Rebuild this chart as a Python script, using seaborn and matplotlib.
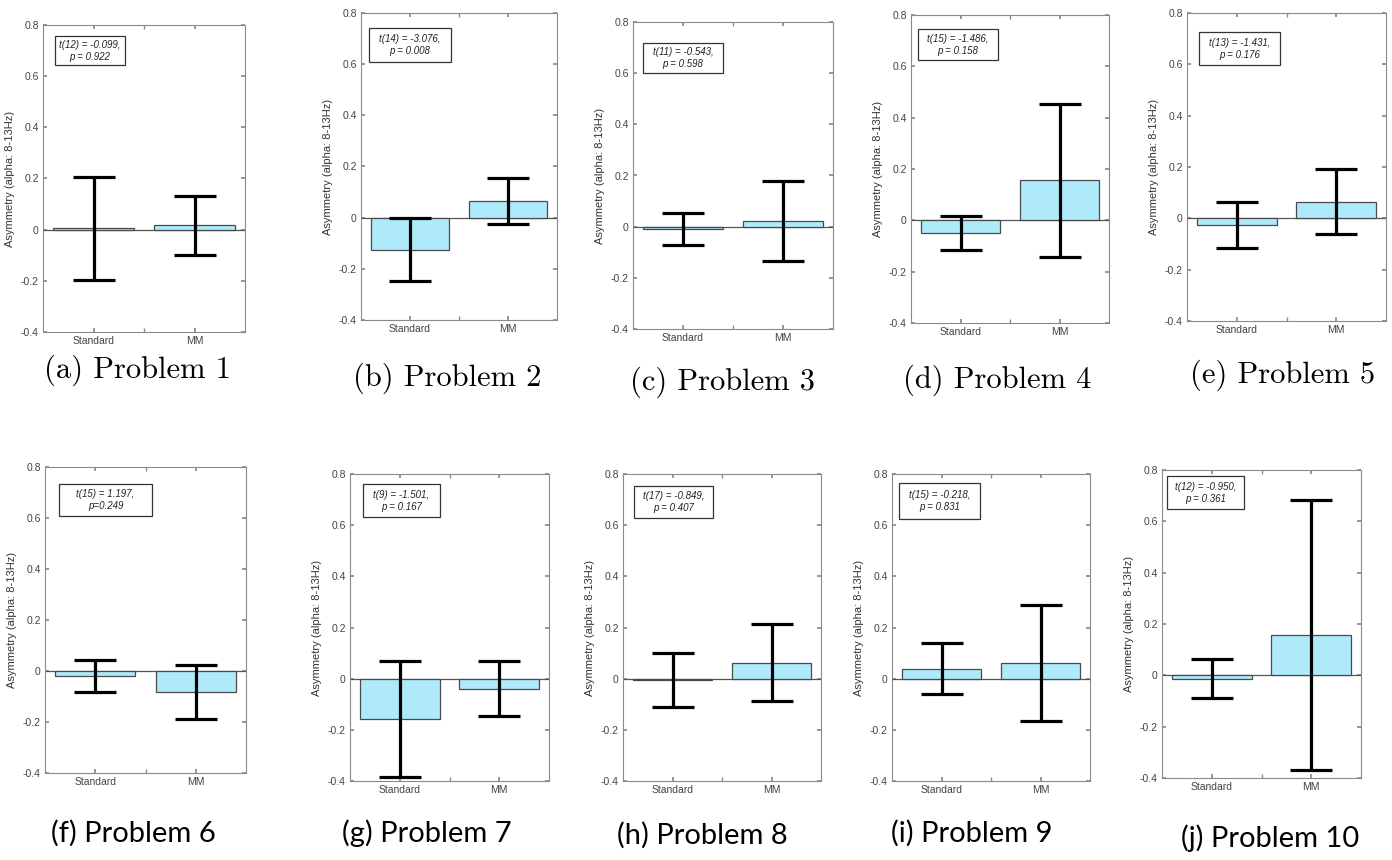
"""
Alpha asymmetry, Standard vs MM, for problems 1-10 (2 x 5 grid of bar charts).
"""

import numpy as np
import pandas as pd
import matplotlib
matplotlib.use("Agg")
import matplotlib.pyplot as plt
from matplotlib.patches import Rectangle
from matplotlib.ticker import FuncFormatter
import seaborn as sns

sns.set_theme(style="ticks")
plt.rcParams["font.family"] = ["Liberation Sans", "DejaVu Sans"]
plt.rcParams["axes.unicode_minus"] = False

# ── data ──────────────────────────────────────────────────────────────────────
CONDITIONS = ["Standard", "MM"]
STD_MEAN = [0.006, -0.125, -0.010, -0.050, -0.025, -0.018, -0.157, -0.004, 0.039, -0.013]
STD_ERR  = [0.201,  0.122,  0.063,  0.065,  0.090,  0.063,  0.226,  0.105, 0.099,  0.075]
MM_MEAN  = [0.017,  0.065,  0.022,  0.156,  0.065, -0.083, -0.039,  0.062, 0.060,  0.156]
MM_ERR   = [0.116,  0.090,  0.156,  0.297,  0.126,  0.105,  0.108,  0.151, 0.226,  0.526]
STATS = [
    "t(12) = -0.099,\np = 0.922",
    "t(14) = -3.076,\np = 0.008",
    "t(11) = -0.543,\np = 0.598",
    "t(15) = -1.486,\np = 0.158",
    "t(13) = -1.431,\np = 0.176",
    "t(15) = 1.197,\np=0.249",
    "t(9) = -1.501,\np = 0.167",
    "t(17) = -0.849,\np = 0.407",
    "t(15) = -0.218,\np = 0.831",
    "t(12) = -0.950,\np = 0.361",
]
CAPTIONS = [f"({c}) Problem {i + 1}" for i, c in enumerate("abcdefghij")]
YLABEL = "Asymmetry (alpha: 8-13Hz)"

# ── layout (pixels in the 1392x860 canvas) ────────────────────────────────────
W, H = 1392, 860
AX_PX = [(43, 25, 245, 332), (361, 13, 557, 320), (633, 22, 833, 329),
         (911, 15, 1109, 323), (1187, 13, 1386, 321),
         (45, 467, 246, 773), (350, 474, 549, 781), (623, 474, 821, 781),
         (892, 474, 1090, 781), (1162, 470, 1361, 778)]
BOX_PX = [(55, 36, 125, 65), (369, 28, 451, 62), (643, 43, 723, 73),
          (918, 29, 998, 60), (1199, 32, 1280, 65),
          (59, 484, 152, 516), (363, 484, 440, 517), (634, 486, 713, 518),
          (899, 483, 980, 519), (1167, 476, 1244, 509)]
CAP_PX = [(137, 370), (447, 378), (723, 382), (997, 380), (1283, 375),
          (133, 833), (427, 833), (702, 835), (972, 833), (1270, 838)]

BAR_COLOR = "#aeeaf9"
EDGE = "#4a4a4a"
AXIS_GRAY = "#8a8a8a"

fig = plt.figure(figsize=(W / 100, H / 100), dpi=100)

for i in range(10):
    x0, y0, x1, y1 = AX_PX[i]
    ax = fig.add_axes([x0 / W, 1 - y1 / H, (x1 - x0) / W, (y1 - y0) / H])
    df = pd.DataFrame({"condition": CONDITIONS,
                       "value": [STD_MEAN[i], MM_MEAN[i]],
                       "err": [STD_ERR[i], MM_ERR[i]]})
    ax.axhline(0, color="#555555", lw=0.9, zorder=1)
    sns.barplot(data=df, x="condition", y="value", ax=ax, color=BAR_COLOR,
                saturation=1, edgecolor=EDGE, linewidth=0.9, width=0.8,
                errorbar=None, zorder=2)
    ax.errorbar(np.arange(len(df)), df["value"], yerr=df["err"], fmt="none",
                ecolor="black", elinewidth=2.3, capsize=15, capthick=2.3,
                zorder=3)
    ax.set_xlim(-0.5, 1.5)
    ax.set_ylim(-0.4, 0.8)
    ax.set_yticks(np.arange(-0.4, 0.81, 0.2))
    ax.yaxis.set_major_formatter(FuncFormatter(
        lambda v, _: "0" if abs(v) < 1e-9 else f"{v:.1f}"))
    ax.set_xticks([0.5], minor=True)
    ax.set_xlabel("")
    ax.set_ylabel(YLABEL, fontsize=8, color="#333333", labelpad=4)
    ax.tick_params(which="both", direction="in", length=3, color=AXIS_GRAY,
                   top=True, right=True, labelsize=7.5, labelcolor="#444444",
                   pad=3)
    for sp in ax.spines.values():
        sp.set_color(AXIS_GRAY)
        sp.set_linewidth(0.8)

    # stats box
    bx0, by0, bx1, by1 = BOX_PX[i]
    fx0 = (bx0 - x0) / (x1 - x0)
    fx1 = (bx1 - x0) / (x1 - x0)
    fy0 = (y1 - by1) / (y1 - y0)
    fy1 = (y1 - by0) / (y1 - y0)
    ax.add_patch(Rectangle((fx0, fy0), fx1 - fx0, fy1 - fy0,
                           transform=ax.transAxes, fill=False,
                           edgecolor="#333333", lw=0.9, zorder=4))
    ax.text((fx0 + fx1) / 2, (fy0 + fy1) / 2, STATS[i],
            transform=ax.transAxes, ha="center", va="center",
            fontsize=7, style="italic", color="#222222",
            linespacing=1.25, zorder=5)

    # caption
    cx, cy = CAP_PX[i]
    if i < 5:
        fig.text(cx / W, 1 - cy / H, CAPTIONS[i], ha="center", va="center",
                 fontsize=22, family=["cmr10", "DejaVu Serif"], color="black")
    else:
        fig.text(cx / W, 1 - cy / H, CAPTIONS[i], ha="center", va="center",
                 fontsize=21, family=["Lato", "DejaVu Sans"], color="black")

fig.savefig("out.png", dpi=100)
